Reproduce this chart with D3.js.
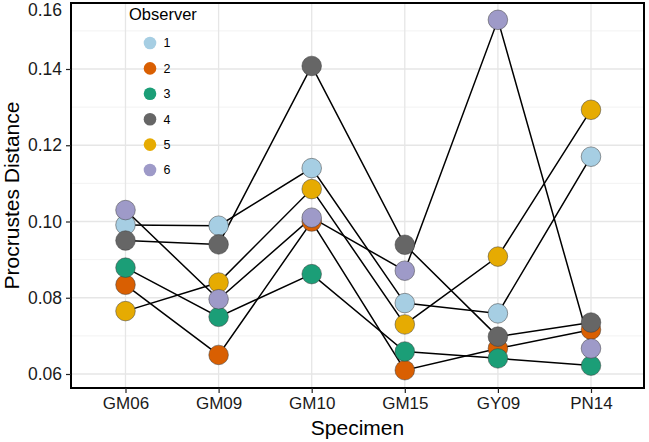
<!DOCTYPE html>
<html>
<head>
<meta charset="utf-8">
<script src="https://cdn.jsdelivr.net/npm/d3@7"></script>
<style>
  html, body { margin: 0; padding: 0; background: #fff; }
  svg { display: block; font-family: "Liberation Sans", Arial, sans-serif; }
</style>
</head>
<body>
<svg id="chart" width="649" height="442"></svg>
<script>
// ---- data ----
const specimens = ["GM06", "GM09", "GM10", "GM15", "GY09", "PN14"];
const observers = ["1", "2", "3", "4", "5", "6"];
const obs1 = [0.0991, 0.0989, 0.1140, 0.0786, 0.0759, 0.1170];
const obs2 = [0.0834, 0.0650, 0.1000, 0.0610, 0.0667, 0.0716];
const obs3 = [0.0879, 0.0750, 0.0862, 0.0659, 0.0641, 0.0622];
const obs4 = [0.0950, 0.0940, 0.1408, 0.0939, 0.0698, 0.0735];
const obs5 = [0.0765, 0.0840, 0.1085, 0.0730, 0.0908, 0.1293];
const obs6 = [0.1030, 0.0796, 0.1010, 0.0871, 0.1529, 0.0667];
const observerColors = ["#a6cee3", "#d95f02", "#1b9e77", "#666666", "#e6ab02", "#9e9ac8"];
const yTicks = [0.06, 0.08, 0.10, 0.12, 0.14];
const yMinorTicks = [0.07, 0.09, 0.11, 0.13, 0.15];
const yTopLabel = "0.16";

const seriesValues = [obs1, obs2, obs3, obs4, obs5, obs6];
const series = observers.map((o, i) => ({
  observer: o,
  color: observerColors[i],
  points: specimens.map((s, j) => ({ specimen: s, value: seriesValues[i][j] }))
}));

// ---- layout ----
const svg = d3.select("#chart");
const panel = { left: 71, right: 644, top: 3, bottom: 388 };

const x = d3.scalePoint().domain(specimens).range([125.5, 591]).padding(0);
// 0.06 -> 374, 0.14 -> 69
const y = d3.scaleLinear().domain([0.06, 0.14]).range([374, 69]);

// grid
const grid = svg.append("g");
grid.selectAll("line.minor").data(yMinorTicks).join("line")
  .attr("x1", panel.left).attr("x2", panel.right)
  .attr("y1", d => y(d)).attr("y2", d => y(d))
  .attr("stroke", "#ededed").attr("stroke-width", 0.7);
grid.selectAll("line.majory").data(yTicks).join("line")
  .attr("x1", panel.left).attr("x2", panel.right)
  .attr("y1", d => y(d)).attr("y2", d => y(d))
  .attr("stroke", "#e6e6e6").attr("stroke-width", 1.3);
grid.selectAll("line.majorx").data(specimens).join("line")
  .attr("x1", d => x(d)).attr("x2", d => x(d))
  .attr("y1", panel.top).attr("y2", panel.bottom)
  .attr("stroke", "#e6e6e6").attr("stroke-width", 1.3);

// lines
const line = d3.line().x(d => x(d.specimen)).y(d => y(d.value));
svg.append("g").selectAll("path").data(series).join("path")
  .attr("d", d => line(d.points))
  .attr("fill", "none").attr("stroke", "#000").attr("stroke-width", 1.5);

// points
const pts = svg.append("g");
series.forEach(s => {
  pts.selectAll(null).data(s.points).join("circle")
    .attr("cx", d => x(d.specimen)).attr("cy", d => y(d.value))
    .attr("r", 9.8)
    .attr("fill", s.color).attr("stroke", "#3a3a3a").attr("stroke-width", 0.5);
});

// panel border
svg.append("rect")
  .attr("x", panel.left).attr("y", panel.top)
  .attr("width", panel.right - panel.left).attr("height", panel.bottom - panel.top)
  .attr("fill", "none").attr("stroke", "#000").attr("stroke-width", 2);

// y axis
const yAxis = svg.append("g").attr("transform", `translate(${panel.left},0)`)
  .call(d3.axisLeft(y).tickValues(yTicks).tickFormat(d3.format(".2f")).tickSizeOuter(0).tickSize(5).tickPadding(4));
yAxis.select(".domain").remove();
yAxis.selectAll("line").attr("stroke", "#222").attr("stroke-width", 1.2);
yAxis.selectAll("text").attr("font-size", 17.5).attr("fill", "#1a1a1a")
  .attr("font-family", "'Liberation Sans', Arial, sans-serif");
svg.append("text").attr("x", panel.left - 9).attr("y", 10).attr("dy", "0.35em")
  .attr("text-anchor", "end").attr("font-size", 17.5).attr("fill", "#1a1a1a").text(yTopLabel);

// x axis
const xAxis = svg.append("g").attr("transform", `translate(0,${panel.bottom})`)
  .call(d3.axisBottom(x).tickSizeOuter(0).tickSize(5).tickPadding(4));
xAxis.select(".domain").remove();
xAxis.selectAll("line").attr("stroke", "#222").attr("stroke-width", 1.2);
xAxis.selectAll("text").attr("font-size", 17).attr("fill", "#1a1a1a")
  .attr("font-family", "'Liberation Sans', Arial, sans-serif");

// axis titles
svg.append("text").attr("x", (panel.left + panel.right) / 2).attr("y", 435)
  .attr("text-anchor", "middle").attr("font-size", 21).attr("fill", "#000").text("Specimen");
svg.append("text").attr("transform", `translate(19,${(panel.top + panel.bottom) / 2}) rotate(-90)`)
  .attr("text-anchor", "middle").attr("font-size", 21).attr("fill", "#000").text("Procrustes Distance");

// legend
const legend = svg.append("g");
legend.append("text").attr("x", 129).attr("y", 14).attr("dy", "0.35em")
  .attr("font-size", 16.5).attr("fill", "#000").text("Observer");
const lg = legend.selectAll("g.item").data(series).join("g")
  .attr("transform", (d, i) => `translate(150,${43 + i * 25.4})`);
lg.append("circle").attr("r", 6.3).attr("fill", d => d.color);
lg.append("text").attr("x", 13.5).attr("dy", "0.35em").attr("font-size", 12.5)
  .attr("fill", "#000").text(d => d.observer);
</script>
</body>
</html>
